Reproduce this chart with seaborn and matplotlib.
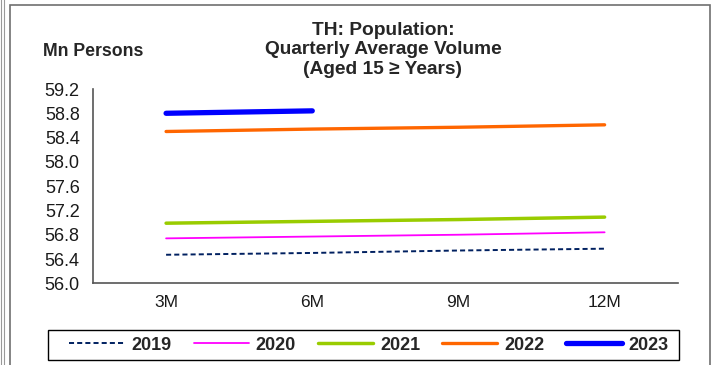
import pandas as pd
import matplotlib
matplotlib.use("Agg")
import matplotlib.pyplot as plt
import seaborn as sns
from matplotlib.patches import Rectangle
from matplotlib.lines import Line2D

periods = ["3M", "6M", "9M", "12M"]
pop_2019 = [56.47, 56.50, 56.54, 56.57]
pop_2020 = [56.74, 56.77, 56.80, 56.84]
pop_2021 = [56.99, 57.02, 57.05, 57.09]
pop_2022 = [58.50, 58.54, 58.57, 58.61]
pop_2023 = [58.80, 58.84]

series = {
    "2019": pop_2019,
    "2020": pop_2020,
    "2021": pop_2021,
    "2022": pop_2022,
    "2023": pop_2023,
}
styles = {
    "2019": dict(color="#002060", lw=1.4, ls=(0, (2.6, 1.6))),
    "2020": dict(color="#FF00FF", lw=1.3, ls="-"),
    "2021": dict(color="#99CC00", lw=2.5, ls="-"),
    "2022": dict(color="#FF6600", lw=2.4, ls="-"),
    "2023": dict(color="#0000FF", lw=3.8, ls="-"),
}

rows = []
for year, vals in series.items():
    for p, v in zip(periods, vals):
        rows.append({"year": year, "period": p, "value": v})
df = pd.DataFrame(rows)
df["x"] = df["period"].map({p: i for i, p in enumerate(periods)})

sns.set_theme(style="white")
plt.rcParams["font.family"] = ["Liberation Sans", "DejaVu Sans"]

W, H = 712, 365
fig = plt.figure(figsize=(W / 100, H / 100), dpi=100)
ax = fig.add_axes([93 / W, 1 - 283.3 / H, (677.7 - 93) / W, (283.3 - 89) / H])

for year in series:
    st = styles[year]
    sns.lineplot(data=df[df["year"] == year], x="x", y="value", ax=ax,
                 color=st["color"], linewidth=st["lw"], linestyle=st["ls"],
                 legend=False, solid_capstyle="round")

ax.set_xlim(-0.5, 3.5)
ax.set_ylim(56.0, 59.2)
yt = [56.0 + 0.4 * i for i in range(9)]
ax.set_yticks(yt)
ax.set_yticklabels([f"{v:.1f}" for v in yt])
ax.set_xticks(range(len(periods)))
ax.set_xticklabels(periods)
ax.set_xticks([-0.5, 0.5, 1.5, 2.5, 3.5], minor=True)
ax.tick_params(axis="x", which="major", length=0, pad=8.5, labelsize=12.5, colors="#1a1a1a")
ax.tick_params(axis="x", which="minor", length=4, width=1, color="#555555", direction="out")
ax.tick_params(axis="y", length=4, width=1, color="#555555", direction="out",
               labelsize=13, labelcolor="#1a1a1a", pad=5.5)
ax.set_xlabel("")
ax.set_ylabel("")
for s in ["top", "right"]:
    ax.spines[s].set_visible(False)
for s in ["left", "bottom"]:
    ax.spines[s].set_color("#555555")
    ax.spines[s].set_linewidth(1.2)

fig.text(383 / W, 1 - 50 / H, "TH: Population:\nQuarterly Average Volume\n(Aged 15 \u2265 Years)",
         ha="center", va="center", fontsize=13.8, fontweight="bold", linespacing=1.17)
fig.text(43 / W, 1 - 52 / H, "Mn Persons", ha="left", va="center",
         fontsize=12.7, fontweight="bold")

handles = [Line2D([], [], color=styles[y]["color"], lw=styles[y]["lw"],
                  ls=styles[y]["ls"], solid_capstyle="round") for y in series]
leg = fig.legend(handles=handles, labels=list(series), loc="center",
                 bbox_to_anchor=(369 / W, 1 - 345 / H), ncol=5, frameon=False,
                 handlelength=3.05, handletextpad=0.39, columnspacing=1.22,
                 borderpad=0.0, prop={"weight": "bold", "size": 13})

fig.patches.append(Rectangle((48 / W, 1 - 360 / H), (679 - 48) / W, 30 / H,
                             transform=fig.transFigure, fill=False,
                             edgecolor="black", linewidth=1.0))
fig.patches.append(Rectangle((10 / W, -0.05), (710 - 10) / W, 1 - 5 / H + 0.05,
                             transform=fig.transFigure, fill=False,
                             edgecolor="#707070", linewidth=1.2))
fig.patches.append(Rectangle((1 / W, -0.05), 3 / W, 1.1,
                             transform=fig.transFigure, fill=False,
                             edgecolor="#999999", linewidth=0.8))

fig.savefig("out.png", dpi=100)
